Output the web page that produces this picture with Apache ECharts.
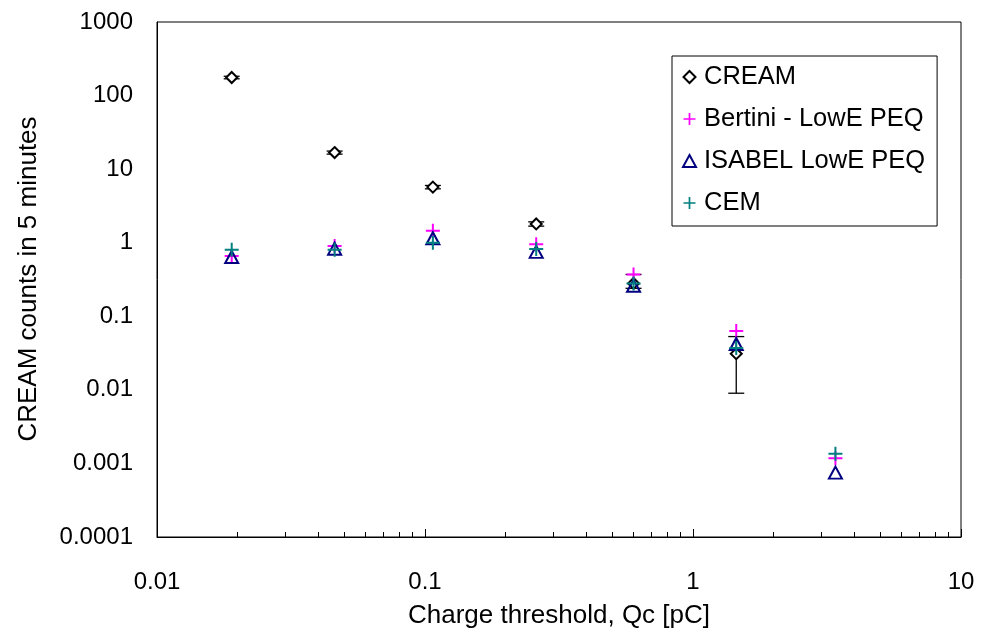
<!DOCTYPE html>
<html><head><meta charset="utf-8">
<script src="https://cdn.jsdelivr.net/npm/echarts@6/dist/echarts.min.js"></script>
<style>html,body{margin:0;padding:0;background:#fff}#c{width:989px;height:636px}</style>
</head><body><div id="c"></div>
<script>
// ---- data ----
const thresholds = [0.019, 0.046, 0.107, 0.26, 0.6, 1.45, 3.4];
const creamX = [0.019, 0.046, 0.107, 0.26, 0.6, 1.45];
const creamCounts = [176, 16.8, 5.7, 1.8, 0.28, 0.031];
const creamLow = [169, 16.0, 5.4, 1.68, 0.24, 0.009];
const creamHigh = [183, 17.6, 6.0, 1.92, 0.37, 0.053];
const bertini = [0.66, 0.9, 1.45, 0.95, 0.37, 0.063, 0.00118];
const isabel = [0.64, 0.83, 1.15, 0.75, 0.26, 0.042, 0.00075];
const cem = [0.8, 0.8, 1.0, 0.82, 0.28, 0.037, 0.00135];
const xTickLabels = ['0.01', '0.1', '1', '10'];
const yTickLabels = ['0.0001', '0.001', '0.01', '0.1', '1', '10', '100', '1000'];
const xMinorTicks = [0.02, 0.03, 0.04, 0.05, 0.06, 0.07, 0.08, 0.09,
                     0.2, 0.3, 0.4, 0.5, 0.6, 0.7, 0.8, 0.9,
                     2, 3, 4, 5, 6, 7, 8, 9];
const seriesNames = ['CREAM', 'Bertini - LowE PEQ', 'ISABEL LowE PEQ', 'CEM'];

const FONT = 'Liberation Sans, Arial, sans-serif';
const PLUS = 'path://M6,0 H8 V6 H14 V8 H8 V14 H6 V8 H0 V6 H6 Z';
const DIAMOND = 'path://M0,-1 L1,0 L0,1 L-1,0 Z';

const pairs = (xs, ys) => xs.map((x, i) => [x, ys[i]]);

const chart = echarts.init(document.getElementById('c'), null, {renderer: 'canvas'});
chart.setOption({
  animation: false,
  backgroundColor: '#fff',
  grid: {left: 157, right: 28, top: 22, bottom: 99, show: true, borderColor: '#000', borderWidth: 1, backgroundColor: 'transparent'},
  xAxis: [{
    type: 'log', logBase: 10, min: 0.01, max: 10, interval: 1,
    axisLine: {show: true, lineStyle: {color: '#000', width: 1}},
    axisTick: {show: true, inside: true, length: 8, lineStyle: {color: '#000', width: 1}},
    axisLabel: {margin: 33, fontSize: 24, color: '#000', fontFamily: FONT,
      formatter: v => xTickLabels[Math.round(Math.log10(v)) + 2]},
    splitLine: {show: false}, minorTick: {show: false}
  }, {
    type: 'log', logBase: 10, min: 0.01, max: 10, position: 'bottom',
    axisLine: {show: false},
    axisTick: {show: true, inside: true, length: 5, customValues: xMinorTicks, lineStyle: {color: '#000', width: 1}},
    axisLabel: {show: false},
    splitLine: {show: false}
  }],
  yAxis: {
    type: 'log', logBase: 10, min: 0.0001, max: 1000, interval: 1,
    axisLine: {show: true, lineStyle: {color: '#000', width: 1}},
    axisTick: {show: false},
    axisLabel: {margin: 24, fontSize: 24, color: '#000', fontFamily: FONT,
      formatter: v => yTickLabels[Math.round(Math.log10(v)) + 4]},
    splitLine: {show: false}
  },
  legend: {
    data: seriesNames, orient: 'vertical', left: 672, top: 56,
    itemWidth: 13, itemHeight: 12, itemGap: 16,
    padding: [8, 12, 10, 10],
    borderColor: '#000', borderWidth: 1, backgroundColor: '#fff',
    textStyle: {fontSize: 25.5, color: '#000', fontFamily: FONT, padding: [0, 0, 0, 3]}
  },
  graphic: [
    {type: 'text', x: 559, y: 616, style: {text: 'Charge threshold, Qc [pC]', fontSize: 26, fontFamily: FONT, fill: '#000', textAlign: 'center', textVerticalAlign: 'middle'}},
    {type: 'text', x: 29, y: 279, rotation: Math.PI / 2, style: {text: 'CREAM counts in 5 minutes', fontSize: 26, fontFamily: FONT, fill: '#000', textAlign: 'center', textVerticalAlign: 'middle'}}
  ],
  series: [
    {
      type: 'custom', name: 'CREAM error', xAxisIndex: 0, yAxisIndex: 0, z: 2,
      data: creamX.map((x, i) => [x, creamLow[i], creamHigh[i]]),
      renderItem: (params, api) => {
        const x = api.value(0);
        const lo = api.coord([x, api.value(1)]);
        const hi = api.coord([x, api.value(2)]);
        const w = 8;
        const st = {stroke: '#000', lineWidth: 1.3};
        return {type: 'group', children: [
          {type: 'line', shape: {x1: lo[0], y1: lo[1], x2: hi[0], y2: hi[1]}, style: st},
          {type: 'line', shape: {x1: lo[0] - w, y1: lo[1], x2: lo[0] + w, y2: lo[1]}, style: st},
          {type: 'line', shape: {x1: hi[0] - w, y1: hi[1], x2: hi[0] + w, y2: hi[1]}, style: st}
        ]};
      }
    },
    {
      type: 'scatter', name: seriesNames[0], z: 3, symbol: DIAMOND, symbolSize: 11,
      itemStyle: {color: '#fff', borderColor: '#000', borderWidth: 2, opacity: 1},
      data: pairs(creamX, creamCounts)
    },
    {
      type: 'scatter', name: seriesNames[1], z: 4, symbol: PLUS, symbolSize: 14,
      itemStyle: {color: '#FF00FF', opacity: 1},
      data: pairs(thresholds, bertini)
    },
    {
      type: 'scatter', name: seriesNames[2], z: 5, symbol: 'triangle', symbolSize: [13, 12],
      itemStyle: {color: 'rgba(255,255,255,0)', borderColor: '#000080', borderWidth: 2, opacity: 1},
      data: pairs(thresholds, isabel)
    },
    {
      type: 'scatter', name: seriesNames[3], z: 6, symbol: PLUS, symbolSize: 14,
      itemStyle: {color: '#008080', opacity: 1},
      data: pairs(thresholds, cem)
    }
  ]
});
</script>
</body></html>
